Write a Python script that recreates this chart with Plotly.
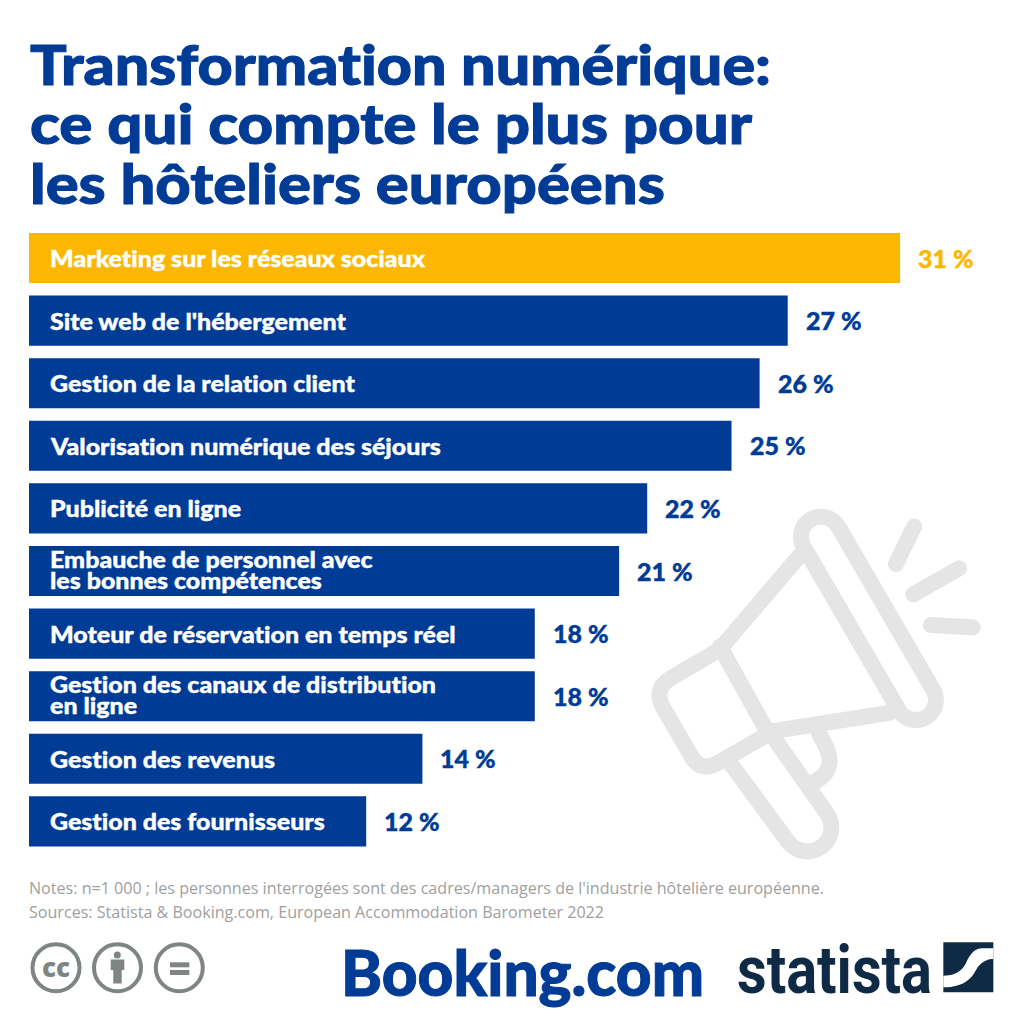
import math, json
import plotly.graph_objects as go

categories = ["Marketing sur les réseaux sociaux", "Site web de l'hébergement", "Gestion de la relation client",
              "Valorisation numérique des séjours", "Publicité en ligne",
              "Embauche de personnel avec\nles bonnes compétences", "Moteur de réservation en temps réel",
              "Gestion des canaux de distribution\nen ligne", "Gestion des revenus", "Gestion des fournisseurs"]
values = [31, 27, 26, 25, 22, 21, 18, 18, 14, 12]
title_lines = ["Transformation numérique:", "ce qui compte le plus pour", "les hôteliers européens"]
notes = ["Notes: n=1 000 ; les personnes interrogées sont des cadres/managers de l'industrie hôtelière européenne.",
         "Sources: Statista & Booking.com, European Accommodation Barometer 2022"]

BLUE = "#003b95"; GOLD = "#feb700"; GREY = "#e5e5e5"; NAVY = "#0f2a45"; ICON = "#7f8583"
W = 1024.0

def P(x, y):
    return f"{x/W:.5f},{1-y/W:.5f}"

def path(points, close=False):
    s = "M" + " L".join(P(*p) for p in points)
    return s + (" Z" if close else "")

def arc(cx, cy, r, a0, a1, n=24):
    return [(cx + r*math.cos(math.radians(a0 + (a1-a0)*i/n)), cy + r*math.sin(math.radians(a0 + (a1-a0)*i/n))) for i in range(n+1)]

def capsule(p, q, w):
    a = math.degrees(math.atan2(q[1]-p[1], q[0]-p[0]))
    return arc(p[0], p[1], w/2, a+90, a+270) + arc(q[0], q[1], w/2, a-90, a+90)

def Z(x, y):  # crop of the megaphone region to page pixels
    return (620 + x/3, 490 + y/3)

def S(x, y):  # crop of the Statista mark to page pixels
    return (930 + x/3, 930 + y/3)

def quad(a, b, c, n=12):
    return [((1-t)**2*a[0]+2*t*(1-t)*b[0]+t*t*c[0], (1-t)**2*a[1]+2*t*(1-t)*b[1]+t*t*c[1]) for t in [i/n for i in range(n+1)]]

shapes = []
def stroke(points, width=16, color=GREY, close=False):
    shapes.append(dict(type="path", xref="paper", yref="paper", path=path(points, close), line=dict(color=color, width=width), fillcolor="rgba(0,0,0,0)", layer="below"))
def fill(points, color=GREY):
    shapes.append(dict(type="path", xref="paper", yref="paper", path=path(points, True), line=dict(width=0), fillcolor=color, layer="below"))

# megaphone decoration
stroke(capsule((821, 536.7), (916, 700), 40), close=True)
stroke([Z(538, 198), Z(306, 470)])
stroke([Z(300, 470), Z(442, 725)])
stroke([Z(300, 478), Z(155, 563)] + quad(Z(155, 563), Z(97, 597), Z(130, 654)) + [Z(215, 800)] + quad(Z(215, 800), Z(243, 848), Z(295, 818)) + [Z(440, 735)])
stroke([Z(450, 725), Z(812, 668)])
stroke([Z(335, 825), Z(503, 1054)] + arc(*Z(562, 1012), 24, 145, -35, 30) + [Z(468, 753)])
stroke([Z(597, 730), Z(618, 770)] + quad(Z(618, 770), Z(650, 840), Z(585, 875)))
fill(capsule(Z(882, 110), Z(828, 222), 16))
fill(capsule(Z(1017, 235), Z(880, 313), 16))
fill(capsule(Z(933, 405), Z(1058, 412), 16))

# licence icons
for cx in (56, 117.5, 179.3):
    shapes.append(dict(type="circle", xref="paper", yref="paper", x0=(cx-23.5)/W, x1=(cx+23.5)/W, y0=1-(967.7+23.5)/W, y1=1-(967.7-23.5)/W, line=dict(color=ICON, width=4), layer="below"))
shapes.append(dict(type="circle", xref="paper", yref="paper", x0=113.8/W, x1=120.8/W, y0=1-958.5/W, y1=1-951.5/W, fillcolor=ICON, line=dict(width=0), layer="below"))
fill([(110.7, 959.5), (124.3, 959.5), (124.3, 970), (121.7, 970), (121.7, 983.5), (113.3, 983.5), (113.3, 970), (110.7, 970)], ICON)
fill([(170, 962.3), (189.3, 962.3), (189.3, 967.3), (170, 967.3)], ICON)
fill([(170, 970), (189.3, 970), (189.3, 975), (170, 975)], ICON)

# Statista mark
fill([S(40, 37), S(190, 37), S(190, 187), S(40, 187)], NAVY)
fill([S(190, 55)] + quad(S(155, 55), S(130, 55), S(112, 90)) + quad(S(112, 90), S(95, 137), S(40, 137)) + [S(40, 172)] + quad(S(40, 172), S(110, 172), S(135, 125)) + quad(S(135, 125), S(155, 87), S(190, 87)), "#ffffff")

colors = [GOLD] + [BLUE]*9
fig = go.Figure(go.Bar(y=list(range(len(values))), x=values, orientation="h", width=0.8, marker=dict(color=colors, line=dict(width=0)), hoverinfo="skip"))

ann = []
fit = {}
heavy = {}
stretch = {}
def T(x, y, s, size, color, family, weight=400, anchor="left", width=None, bold=0):
    ann.append(dict(xref="paper", yref="paper", x=x/W, y=1-y/W, text=s, showarrow=False, xanchor=anchor, yanchor="middle", align="left", font=dict(size=size, color=color, family=family, weight=weight)))
    if width:
        fit[s] = width
    if bold:
        heavy[s] = bold

for line, y, w in zip(title_lines, (63, 122, 182), (741, 722, 635)):
    T(28, y, line, 56, BLUE, "Lato", 900, width=w, bold=1.0)

for i, (c, v) in enumerate(zip(categories, values)):
    parts = c.split("\n")
    offs = [0] if len(parts) == 1 else [-12, 9]
    for p, o in zip(parts, offs):
        ann.append(dict(x=0, y=i, xref="x", yref="y", text=p, showarrow=False, xanchor="left", yanchor="middle", align="left", xshift=19, yshift=-o, font=dict(size=23, color="#ffffff", family="Lato", weight=900)))
        heavy[p] = 0.4
        stretch[p] = 1.085
    s = f"{v} %"
    ann.append(dict(x=v, y=i, xref="x", yref="y", text=s, showarrow=False, xanchor="left", yanchor="middle", align="left", xshift=16, font=dict(size=24, color=GOLD if i == 0 else BLUE, family="Lato", weight=900)))
    heavy[s] = 0.4
    stretch[s] = 1.04

T(27, 888, notes[0], 16, "#a0a0a0", "Open Sans", width=795)
T(27, 912, notes[1], 16, "#a0a0a0", "Open Sans", width=575)
T(56, 967, "cc", 26, ICON, "Open Sans", 800, "center", width=28)
T(339, 972, "Booking.com", 62, BLUE, "Lato", 900, width=363, bold=1.0)
T(735, 970, "statista", 66, NAVY, "Roboto", 700, width=195)

fig.update_layout(
    width=1024, height=1024, autosize=False, margin=dict(l=0, r=0, t=0, b=0), paper_bgcolor="white", plot_bgcolor="rgba(0,0,0,0)",
    showlegend=False, shapes=shapes, annotations=ann,
    xaxis=dict(range=[-29/28.1, 995/28.1], visible=False, fixedrange=True),
    yaxis=dict(range=[(1024-258)/62.6, -258/62.6], visible=False, fixedrange=True),
)
post = """
document.body.style.margin='0';
var fit = %s, heavy = %s, stretch = %s;
document.querySelectorAll('.shapelayer path').forEach(function(p){ p.style.strokeLinejoin='round'; p.style.strokeLinecap='round'; });
document.querySelectorAll('.annotation-text').forEach(function(t){
  var k = t.textContent;
  t.style.fontVariantLigatures = 'none';
  if (heavy[k]) { t.style.stroke = t.style.fill; t.style.strokeWidth = heavy[k] + 'px'; t.style.paintOrder = 'stroke'; }
  var w = fit[k] || (stretch[k] ? t.getComputedTextLength() * stretch[k] : 0);
  if (w) { t.setAttribute('textLength', w); t.setAttribute('lengthAdjust', 'spacingAndGlyphs'); }
});
""" % (json.dumps(fit, ensure_ascii=False), json.dumps(heavy, ensure_ascii=False), json.dumps(stretch, ensure_ascii=False))
fig.write_html("out.html", config=dict(displayModeBar=False), post_script=post)
